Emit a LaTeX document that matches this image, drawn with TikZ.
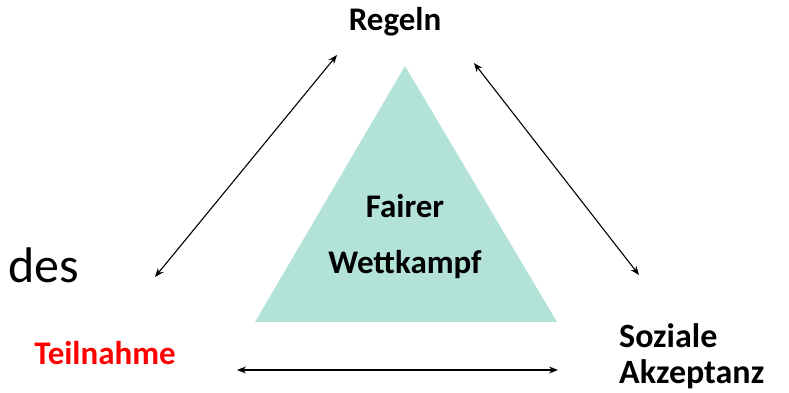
\documentclass[tikz,border=0pt]{standalone}
\usepackage{fontspec}
\setmainfont{Carlito}
\usetikzlibrary{arrows.meta}
\definecolor{tri}{HTML}{B3E3D8}
\definecolor{redlbl}{HTML}{FF0000}
\tikzset{
  lbl/.style={font=\bfseries\fontsize{33}{38}\selectfont, inner sep=0pt},
  dbl/.style={{Stealth[length=9pt,width=7pt]}-{Stealth[length=9pt,width=7pt]}, line width=1.1pt}
}
\begin{document}
\begin{tikzpicture}[x=1pt,y=1pt]
\useasboundingbox (0,0) rectangle (789,393);
% triangle
\coordinate (ta) at (405,327);
\coordinate (tl) at (255,71);
\coordinate (tr) at (557,71);
\fill[tri] (ta) -- (tl) -- (tr) -- cycle;
% labels
\node[lbl] (regeln) at (395,371) {Regeln};
\node[lbl] (fairer) at (405,187) {Fairer};
\node[lbl] (wett) at (405,128) {Wettkampf};
\node[inner sep=0pt, font=\fontsize{50}{56}\selectfont] (des) at (44,128) {des};
\node[lbl, text=redlbl] (teil) at (105,40) {Teilnahme};
\node[lbl, anchor=west, font=\bfseries\fontsize{34}{38}\selectfont] (soz) at (619,57) {Soziale};
\node[lbl, anchor=west, font=\bfseries\fontsize{34}{38}\selectfont] (akz) at (619,19) {Akzeptanz};
% arrow ends
\coordinate (a1) at (155,116);
\coordinate (a2) at (337,338);
\coordinate (b1) at (474,330);
\coordinate (b2) at (639,118);
\coordinate (c1) at (237,23);
\coordinate (c2) at (558,23);
\draw[dbl] (a1) -- (a2);
\draw[dbl] (b1) -- (b2);
\draw[dbl] (c1) -- (c2);
\end{tikzpicture}
\end{document}
